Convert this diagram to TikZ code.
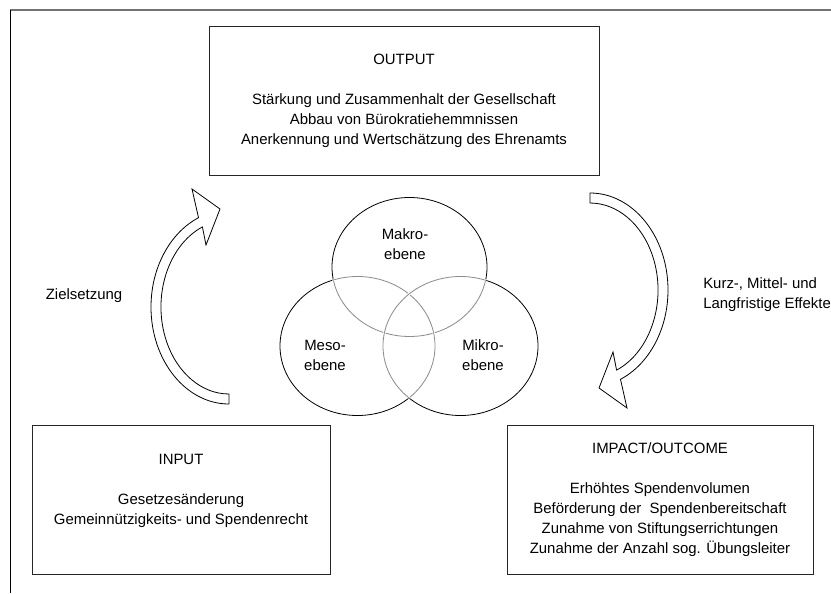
\documentclass[tikz,border=0pt]{standalone}
\usepackage{fontspec}
\setmainfont{Liberation Sans}
\usetikzlibrary{positioning}

\begin{document}
\begin{tikzpicture}[x=0.75pt, y=-0.75pt,
    kasten/.style={draw=black!85, line width=0.75pt, align=center, minimum height=111.75pt, font=\fontsize{11.2}{15}\selectfont},
    txt/.style={align=center, inner sep=0pt, font=\fontsize{11.2}{15}\selectfont},
    pfeil/.style={draw=black, fill=white, line width=0.6pt, line join=miter},
    kreis/.style={x radius=77.5, y radius=69.5}]
        \useasboundingbox (0,0) rectangle (831,593);
        % Rahmen (oben grau, links schwarz)
        \draw[black!55, line width=1.5pt] (10,10) -- (831,10);
        \draw[black, line width=0.75pt] (10,10) -- (10,593);

        % Kaesten
        \node[kasten, minimum width=292.5pt] (output) at (404,100.5) {OUTPUT\\[15pt]Stärkung und Zusammenhalt der Gesellschaft\\Abbau von Bürokratiehemmnissen\\Anerkennung und Wertschätzung des Ehrenamts};
        \node[kasten, minimum width=223.5pt] (input) at (181,499.5) {INPUT\\[15pt]Gesetzesänderung\\Gemeinnützigkeits- und Spendenrecht\\~};
        \node[kasten, minimum width=229.5pt] (impact) at (660,500) {IMPACT/OUTCOME\\[15pt]Erhöhtes Spendenvolumen\\Beförderung der\ \ Spendenbereitschaft\\Zunahme von Stiftungserrichtungen\\Zunahme der Anzahl sog. Übungsleiter};

        % Ebenen (schwarz aussen, grau innen)
        \coordinate (makro) at (409.5,267);
        \coordinate (meso) at (357.5,346);
        \coordinate (mikro) at (460.5,346);
        \foreach \e in {makro,meso,mikro}
            \draw[line width=0.6pt] (\e) ellipse [kreis];
        \foreach \e/\f in {makro/meso,makro/mikro,meso/makro,meso/mikro,mikro/makro,mikro/meso}{
            \begin{scope}
                \clip (\f) ellipse [kreis];
                \draw[white, line width=1.6pt] (\e) ellipse [kreis];
                \draw[black!45, line width=0.6pt] (\e) ellipse [kreis];
            \end{scope}
        }
        \node[txt] (makrot) at (405,244) {Makro-\\ebene};
        \node[txt] (mesot) at (325,355) {Meso-\\ebene};
        \node[txt] (mikrot) at (483,355) {Mikro-\\ebene};

        % Pfeile (rechts, und links um 180 Grad gedreht)
        \draw[pfeil] (590,193) arc[start angle=-90, end angle=67, x radius=78, y radius=97] -- (627,408) -- (599,388) -- (613,352) -- (616.6,370.1) arc[start angle=67, end angle=-90, x radius=68, y radius=87] -- cycle;
        \draw[pfeil, rotate around={180:(409.5,298.5)}] (590,193) arc[start angle=-90, end angle=67, x radius=78, y radius=97] -- (627,408) -- (599,388) -- (613,352) -- (616.6,370.1) arc[start angle=67, end angle=-90, x radius=68, y radius=87] -- cycle;

        % Beschriftungen
        \node[txt] (ziel) at (84,296) {Zielsetzung};
        \node[txt, anchor=west, align=left] (effekte) at (703,295) {Kurz-, Mittel- und\\Langfristige Effekte};
    \end{tikzpicture}
\end{document}
